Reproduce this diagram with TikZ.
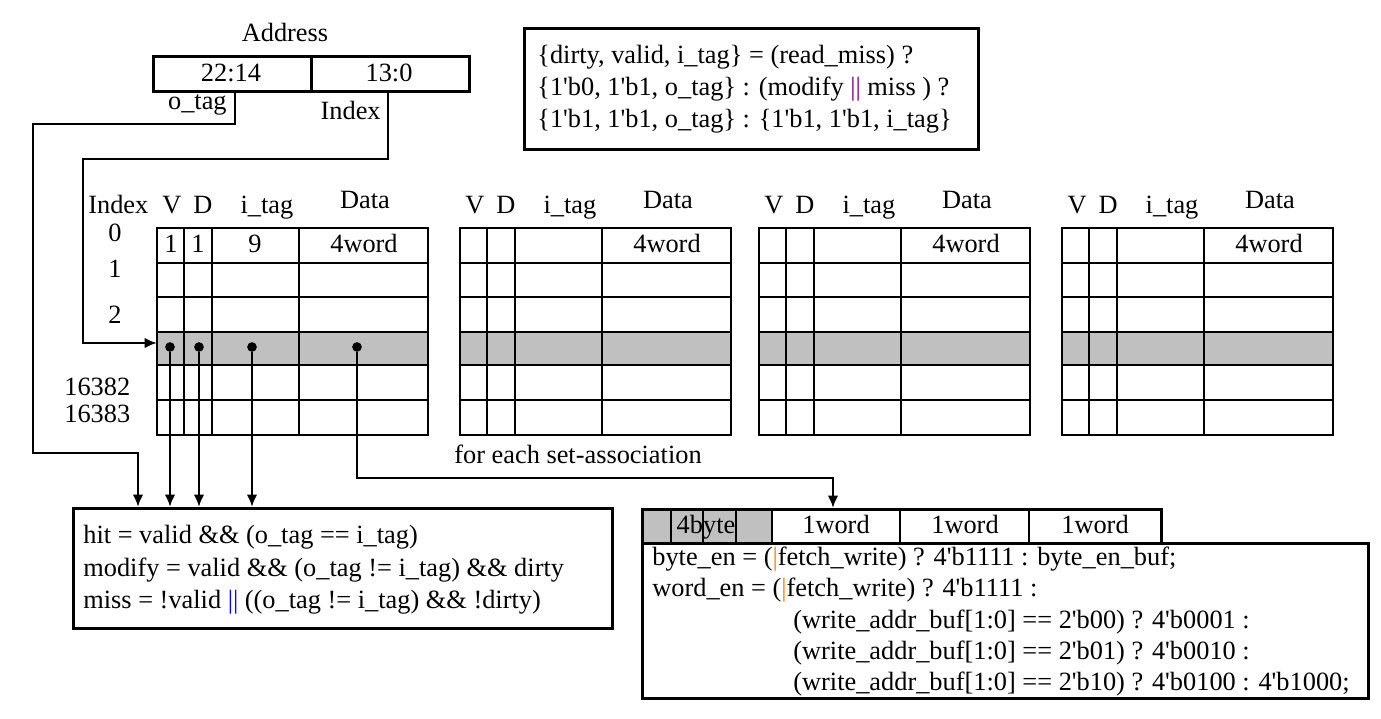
\documentclass[tikz,border=0pt]{standalone}
\usepackage{fontspec}
\setmainfont{Liberation Serif}[Ligatures=TeXOff]
\usetikzlibrary{arrows.meta}
\definecolor{rowgray}{RGB}{192,192,192}
\tikzset{t/.style={font=\fontsize{15}{18}\selectfont,inner sep=0pt}}
\tikzset{ln/.style={line width=1.6pt}}
\tikzset{box/.style={draw,line width=1.6pt,anchor=north west,inner sep=0pt}}
\tikzset{dot/.style={circle,fill,inner sep=0pt,minimum size=5.5pt}}
\tikzset{arr/.style={line width=1.5pt,-{Latex[length=7pt,width=6pt]}}}

\begin{document}
\begin{tikzpicture}[x=0.02cm,y=-0.02cm]
      \useasboundingbox (0,0) rectangle (1381,719);
      % address
      \node[t,anchor=base] (addr) at (285,42) {Address};
      \node[box,minimum width=3.16cm,minimum height=0.7cm] (hi) at (152,55) {};
      \node[box,minimum width=3.16cm,minimum height=0.7cm] (lo) at (310,55) {};
      \node[t,anchor=base] (hil) at (231,82) {22:14};
      \node[t,anchor=base] (lol) at (389,82) {13:0};
      \node[t,anchor=base east] (otagl) at (227,110) {o\_tag};
      \node[t,anchor=base east] (idxl) at (381,120) {Index};
      \coordinate (otag) at (235,90);
      \coordinate (idx) at (388,90);
      \coordinate (row) at (157,343);

      % the four ways
      \foreach \o in {0,303,602,905} {
        \fill[rowgray] (157+\o,332) rectangle (428+\o,365);
        \draw[ln] (157+\o,228) rectangle (428+\o,435);
        \foreach \y in {263,297,332,365,400}
          \draw[ln] (157+\o,\y) -- (428+\o,\y);
        \foreach \x in {184,212,299}
          \draw[ln] (\x+\o,228) -- (\x+\o,435);
        \node[t,anchor=base] (v\o) at (172+\o,214) {V};
        \node[t,anchor=base] (d\o) at (203+\o,214) {D};
        \node[t,anchor=base] (tg\o) at (267+\o,214) {i\_tag};
        \node[t,anchor=base] (da\o) at (365+\o,209) {Data};
        \node[t,anchor=base] (w\o) at (364+\o,253) {4word};
      }
      \node[t,anchor=base west] (index) at (88,214) {Index};
      \node[t,anchor=base] (r0) at (115,242) {0};
      \node[t,anchor=base] (r1) at (115,277) {1};
      \node[t,anchor=base] (r2) at (115,323) {2};
      \node[t,anchor=base west] (r3) at (64,395) {16382};
      \node[t,anchor=base west] (r4) at (64,422) {16383};
      \node[t,anchor=base] (v1) at (171,253) {1};
      \node[t,anchor=base] (d1) at (198,253) {1};
      \node[t,anchor=base] (tg1) at (255,253) {9};
      \node[dot] (dv) at (170,347) {};
      \node[dot] (dd) at (199,347) {};
      \node[dot] (dt) at (252,347) {};
      \node[dot] (dw) at (357,347) {};
      \node[t,anchor=base] (each) at (578,463) {for each set-association};

      % hit / modify / miss
      \node[box,minimum width=10.78cm,minimum height=2.4cm] (cond) at (72,507) {};
      \node[t,anchor=base west] (hit) at (83,543) {hit = valid \&\& (o\_tag == i\_tag)};
      \node[t,anchor=base west] (mod) at (83,576) {modify = valid \&\& (o\_tag != i\_tag) \&\& dirty};
      \node[t,anchor=base west] (miss) at (83,608) {miss = !valid \textcolor{blue}{||} ((o\_tag != i\_tag) \&\& !dirty)};

      % tag update
      \node[box,minimum width=9.08cm,minimum height=2.42cm] (upd) at (523,27) {};
      \node[t,anchor=base west] (u1) at (537,64) {\{dirty, valid, i\_tag\} = (read\_miss) ?};
      \node[t,anchor=base west] (u2) at (537,96) {\{1'b0, 1'b1, o\_tag\} : (modify \textcolor{violet}{||} miss ) ?};
      \node[t,anchor=base west] (u3) at (537,128) {\{1'b1, 1'b1, o\_tag\} : \{1'b1, 1'b1, i\_tag\}};

      % one line of data
      \fill[rowgray] (641,508) rectangle (772,542);
      \node[box,minimum width=10.38cm,minimum height=0.68cm] (line) at (641,508) {};
      \foreach \x in {671,703,736,772,900,1029}
        \draw[ln] (\x,508) -- (\x,542);
      \node[t,anchor=base] (byte) at (706,533) {4byte};
      \node[t,anchor=base] (wa) at (836,533) {1word};
      \node[t,anchor=base] (wb) at (965,533) {1word};
      \node[t,anchor=base] (wc) at (1095,533) {1word};
      \node[box,minimum width=14.52cm,minimum height=3.1cm] (en) at (641,542) {};
      \node[t,anchor=base west] (e1) at (652,565) {byte\_en = (\textcolor{orange}{|}fetch\_write) ? 4'b1111 : byte\_en\_buf;};
      \node[t,anchor=base west] (e2) at (652,596) {word\_en = (\textcolor{orange}{|}fetch\_write) ? 4'b1111 :};
      \node[t,anchor=base west] (e3) at (793,628) {(write\_addr\_buf[1:0] == 2'b00) ? 4'b0001 :};
      \node[t,anchor=base west] (e4) at (793,659) {(write\_addr\_buf[1:0] == 2'b01) ? 4'b0010 :};
      \node[t,anchor=base west] (e5) at (793,690) {(write\_addr\_buf[1:0] == 2'b10) ? 4'b0100 : 4'b1000;};

      % connectors
      \draw[arr] (otag) -- (235,124) -- (33,124) -- (33,453) -- (138,453) -- (138,0 |- cond.north);
      \draw[arr] (idx) -- (388,159) -- (83,159) -- (83,343) -- (row);
      \draw[arr] (dv) -- (dv |- cond.north);
      \draw[arr] (dd) -- (dd |- cond.north);
      \draw[arr] (dt) -- (dt |- cond.north);
      \draw[arr] (dw) -- (357,478) -- (833,478) -- (833,0 |- line.north);
\end{tikzpicture}
\end{document}
